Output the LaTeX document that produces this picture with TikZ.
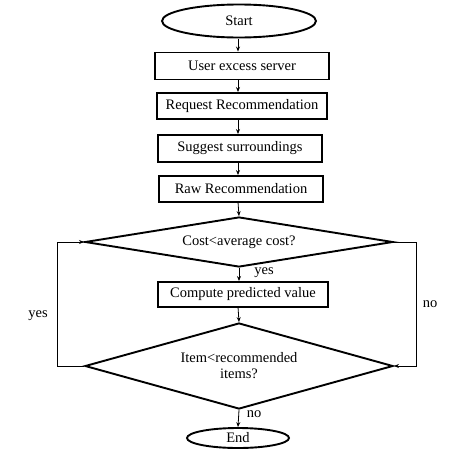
\documentclass[tikz,border=0pt]{standalone}
\usepackage{fontspec}
\setmainfont{Liberation Serif}
\usetikzlibrary{shapes.geometric,arrows.meta}
\begin{document}
\begin{tikzpicture}[x=1pt,y=-1pt,
  every node/.style={font=\fontsize{14.5}{16}\selectfont},
  procbox/.style={draw,line width=1.9pt,rectangle,inner sep=0pt},
  term/.style={draw,line width=1.9pt,ellipse,inner sep=0pt},
  decide/.style={draw,line width=1.9pt,diamond,inner sep=0pt,align=center},
  conn/.style={line width=0.8pt,-{Stealth[length=5pt,width=4pt]}},
  lbl/.style={inner sep=0pt}]
\useasboundingbox (0,0) rectangle (474,474);
\node[term,minimum width=154pt,minimum height=33pt] (start) at (239,21) {Start};
\node[procbox,minimum width=174pt,minimum height=27pt] (b1) at (242,66) {User excess server};
\node[procbox,minimum width=170pt,minimum height=26pt] (b2) at (242,106) {Request Recommendation};
\node[procbox,minimum width=164pt,minimum height=27pt] (b3) at (240,148.5) {Suggest surroundings};
\node[procbox,minimum width=164pt,minimum height=26pt] (b4) at (241,189) {Raw Recommendation};
\node[decide,minimum width=308pt,minimum height=50pt,shape aspect=6.16] (d1) at (239,242) {Cost<average cost?};
\node[procbox,minimum width=170pt,minimum height=25pt] (b5) at (243,294.5) {Compute predicted value};
\node[decide,minimum width=308pt,minimum height=86pt,shape aspect=3.58] (d2) at (239,366) {Item<recommended\\items?};
\node[term,minimum width=102pt,minimum height=20pt] (end) at (238,438) {End};
\coordinate (lx) at (57,0);
\coordinate (rx) at (416,0);
\draw[conn] (238,39) coordinate (s0) -- (s0 |- b1.north);
\draw[conn] (238,80) coordinate (s1) -- (s1 |- b2.north);
\draw[conn] (238,119) coordinate (s2) -- (s2 |- b3.north);
\draw[conn] (238,162) coordinate (s3) -- (s3 |- b4.north);
\draw[conn] (238,202) coordinate (s4) -- (d1.north);
\draw[conn] (d1.south) -- (d1.south |- b5.north);
\draw[conn] (238,307) coordinate (s5) -- (d2.north);
\draw[conn] (d2.south) -- (end.north);
\draw[conn] (d2.west) -- (lx |- d2.west) -- (lx |- d1.west) -- (d1.west);
\draw[conn] (d1.east) -- (rx |- d1.east) -- (rx |- d2.east) -- (d2.east);
\node[lbl] (yes1) at (264,273) {yes};
\node[lbl] (no1) at (430,304) {no};
\node[lbl] (yes2) at (38,316) {yes};
\node[lbl] (no2) at (254,414) {no};
\end{tikzpicture}
\end{document}
